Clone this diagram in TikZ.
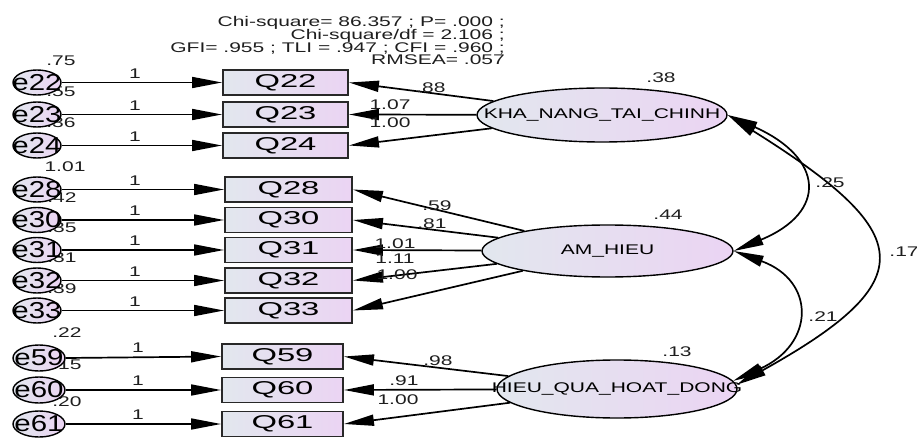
\documentclass[tikz,border=0pt]{standalone}
\usepackage{fontspec}
\setmainfont{Liberation Sans}
\newfontfamily\fsm[FakeStretch=1.5]{Liberation Sans}
\newfontfamily\fq[FakeStretch=1.76]{Liberation Sans}
\newfontfamily\fe[FakeStretch=1.28]{Liberation Sans}
\usetikzlibrary{arrows.meta,shapes.geometric}
\definecolor{lc}{RGB}{226,231,238}
\definecolor{rc}{RGB}{235,212,243}
\definecolor{bd}{RGB}{40,40,40}
\definecolor{tx}{RGB}{30,30,30}
\begin{document}
\begin{tikzpicture}[x=1pt,y=-1pt,
 num/.style={font=\fsm\fontsize{14}{14}\selectfont, inner sep=0pt, text=tx},
 obs/.style={draw=bd, line width=1.9pt, rectangle, minimum height=25pt, inner sep=0pt,
   left color=lc, right color=rc, font=\fq\fontsize{18.6}{19}\selectfont},
 err/.style={draw=black, line width=1.4pt, ellipse, minimum width=48pt, minimum height=25pt,
   inner sep=0pt, left color=lc, right color=rc, font=\fe\fontsize{23}{23}\selectfont},
 lat/.style={draw=black, line width=1.4pt, ellipse, inner sep=0pt, left color=lc, right color=rc,
   font=\fsm\fontsize{14}{14}\selectfont},
 arr/.style={line width=1.7pt, -{Triangle[length=30pt,width=11pt]}},
 darr/.style={line width=1.7pt, {Triangle[length=30pt,width=11pt]}-{Triangle[length=30pt,width=11pt]}},
]
\useasboundingbox (0,0) rectangle (917,438);

% header
\node[num, anchor=base east] (h1) at (505,26.5) {Chi-square= 86.357 ; P= .000 ;};
\node[num, anchor=base east] (h2) at (505,39.3) {Chi-square/df = 2.106 ;};
\node[num, anchor=base east] (h3) at (505,52.2) {GFI= .955 ; TLI = .947 ; CFI = .960 ;};
\node[num, anchor=base east] (h4) at (505,65) {RMSEA= .057};

% variances of errors
\node[num] (v22) at (61,61) {.75};
\node[num] (v23) at (61,92) {.55};
\node[num] (v24) at (61,123) {.36};
\node[num] (v28) at (65,167) {1.01};
\node[num] (v30) at (62,198) {.42};
\node[num] (v31) at (62,228) {.35};
\node[num] (v32) at (62,258) {.31};
\node[num] (v33) at (62,289) {.39};
\node[num] (v59) at (67,333) {.22};
\node[num] (v60) at (67,365) {.15};
\node[num] (v61) at (67,402) {.20};

% latent variances
\node[num] (vK) at (661,78) {.38};
\node[num] (vA) at (668,215) {.44};
\node[num] (vH) at (677,352) {.13};

% observed boxes
\node[obs, minimum width=125pt] (Q22) at (285.5,82.5) {Q22};
\node[obs, minimum width=125pt] (Q23) at (285.5,114.5) {Q23};
\node[obs, minimum width=125pt] (Q24) at (285.5,145.5) {Q24};
\node[obs, minimum width=127pt] (Q28) at (288.5,189.5) {Q28};
\node[obs, minimum width=127pt] (Q30) at (288.5,220) {Q30};
\node[obs, minimum width=127pt] (Q31) at (288.5,250) {Q31};
\node[obs, minimum width=127pt] (Q32) at (288.5,280.5) {Q32};
\node[obs, minimum width=127pt] (Q33) at (288.5,310.5) {Q33};
\node[obs, minimum width=121pt] (Q59) at (282.5,356.5) {Q59};
\node[obs, minimum width=121pt] (Q60) at (282.5,390) {Q60};
\node[obs, minimum width=121pt] (Q61) at (282.5,424) {Q61};

% error circles
\node[err] (e22) at (37,82.5) {\makebox[0pt]{e22}};
\node[err] (e23) at (37,114.5) {\makebox[0pt]{e23}};
\node[err] (e24) at (37,145.5) {\makebox[0pt]{e24}};
\node[err] (e28) at (37,189.5) {\makebox[0pt]{e28}};
\node[err] (e30) at (37,220) {\makebox[0pt]{e30}};
\node[err] (e31) at (37,250) {\makebox[0pt]{e31}};
\node[err] (e32) at (37,280.5) {\makebox[0pt]{e32}};
\node[err] (e33) at (37,310.5) {\makebox[0pt]{e33}};
\node[err, minimum width=52pt, minimum height=26pt] (e59) at (39,358) {\makebox[0pt]{e59}};
\node[err, minimum width=52pt, minimum height=26pt] (e60) at (39,390) {\makebox[0pt]{e60}};
\node[err, minimum width=52pt, minimum height=26pt] (e61) at (39,424) {\makebox[0pt]{e61}};

% latent ellipses
\node[lat, minimum width=250pt, minimum height=54pt] (KHA) at (602,115) {\makebox[0pt]{KHA\_NANG\_TAI\_CHINH}};
\node[lat, minimum width=251pt, minimum height=52pt] (AM) at (607.5,251) {\makebox[0pt]{AM\_HIEU}};
\node[lat, minimum width=240pt, minimum height=58pt] (HIEU) at (617,389) {\makebox[0pt]{HIEU\_QUA\_HOAT\_DONG}};

% error -> indicator arrows
\foreach \e/\q in {22/22,23/23,24/24,28/28,30/30,31/31,32/32,33/33,59/59,60/60,61/61}
  \draw[arr] (e\e.east) -- (Q\q.west);

% "1" labels
\node[num] (o22) at (135,73.5) {1};
\node[num] (o23) at (135,105.5) {1};
\node[num] (o24) at (135,136.5) {1};
\node[num] (o28) at (135,180.5) {1};
\node[num] (o30) at (135,211) {1};
\node[num] (o31) at (135,241) {1};
\node[num] (o32) at (135,271.5) {1};
\node[num] (o33) at (135,301.5) {1};
\node[num] (o59) at (138,347.5) {1};
\node[num] (o60) at (138,381) {1};
\node[num] (o61) at (138,415) {1};

% loadings
\draw[arr] (KHA) -- (Q22.east);
\draw[arr] (KHA) -- (Q23.east);
\draw[arr] (KHA) -- (Q24.east);
\draw[arr] (AM) -- (Q28.east);
\draw[arr] (AM) -- (Q30.east);
\draw[arr] (AM) -- (Q31.east);
\draw[arr] (AM) -- (Q32.east);
\draw[arr] (AM) -- (Q33.east);
\draw[arr] (HIEU) -- (Q59.east);
\draw[arr] (HIEU) -- (Q60.east);
\draw[arr] (HIEU) -- (Q61.east);

\node[num] (l22) at (431,88) {.88};
\node[num] (l23) at (390,105) {1.07};
\node[num] (l24) at (390,123) {1.00};
\node[num] (l28) at (437,206) {.59};
\node[num] (l30) at (432,224) {.81};
\node[num] (l31) at (395,244) {1.01};
\node[num] (l32) at (395,259) {1.11};
\node[num] (l33) at (397,275) {1.00};
\node[num] (l59) at (438,361) {.98};
\node[num] (l60) at (404,381) {.91};
\node[num] (l61) at (398,400) {1.00};

% covariances
\draw[darr] (KHA.east) .. controls (824,158) and (828,212) .. (AM.east);
\draw[darr] (AM.east) .. controls (816,281) and (815,344) .. (HIEU.4);
\draw[darr] (KHA.east) .. controls (916,233) and (925,280) .. (HIEU.2);

\node[num] (c1) at (830,183) {.25};
\node[num] (c2) at (823,317) {.21};
\node[num] (c3) at (904,252) {.17};
\end{tikzpicture}
\end{document}
